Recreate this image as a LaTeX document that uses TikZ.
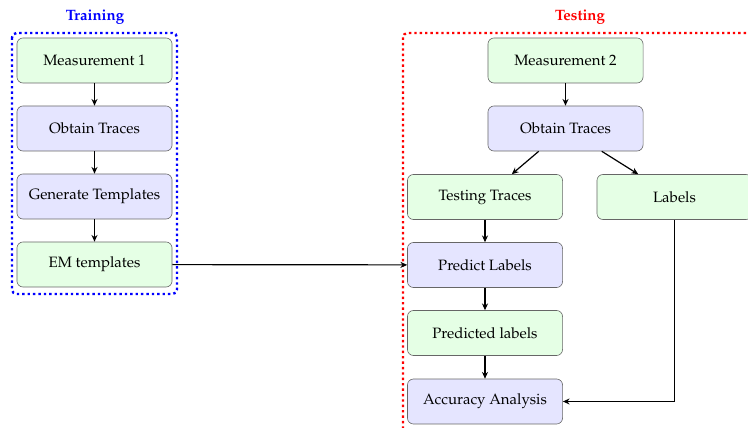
\documentclass[tikz,border=0pt]{standalone}
\usepackage[T1]{fontenc}
\usepackage{mathpazo}
\usetikzlibrary{arrows.meta,calc}

\definecolor{boxgreen}{RGB}{229,255,229}
\definecolor{boxblue}{RGB}{229,229,255}

\tikzset{
  block/.style={draw=black!60, line width=0.4pt, rounded corners=4pt,
    minimum width=103.4pt, minimum height=30pt, inner sep=2pt,
    font=\normalsize},
  greenbox/.style={block, fill=boxgreen},
  bluebox/.style={block, fill=boxblue},
  flow/.style={-{Stealth[length=4.5pt,width=4pt]}, line width=0.8pt, black},
  stagebox/.style={dash pattern=on 1.6pt off 2pt, line width=1.6pt, rounded corners=3pt},
}

\begin{document}
\begin{tikzpicture}[x=0.6667pt, y=-0.6667pt]
  \useasboundingbox (0,0) rectangle (748,428);
  \clip (0,0) rectangle (748,428);

  % stage frames and titles
  \draw[stagebox, blue] (12,33) rectangle (177,294);
  \draw[stagebox, red] (403,33) rectangle (770,445);
  \node[font=\bfseries, text=blue] (ttrain) at (95,17) {Training};
  \node[font=\bfseries, text=red] (ttest) at (580,17) {Testing};

  % training column
  \node[greenbox] (m1)  at (94.5,60.5)  {Measurement 1};
  \node[bluebox]  (ot1) at (94.5,128.5) {Obtain Traces};
  \node[bluebox]  (gt)  at (94.5,196.5) {Generate Templates};
  \node[greenbox] (em)  at (94.5,264.5) {EM templates};

  % testing column
  \node[greenbox] (m2)  at (565.5,60.5)  {Measurement 2};
  \node[bluebox]  (ot2) at (565.5,128.5) {Obtain Traces};
  \node[greenbox] (tt)  at (485,197)     {Testing Traces};
  \node[greenbox] (lab) at (674.5,197)   {Labels};
  \node[bluebox]  (pl)  at (485,265)     {Predict Labels};
  \node[greenbox] (pd)  at (485,333)     {Predicted labels};
  \node[bluebox]  (acc) at (485,401.5)   {Accuracy Analysis};

  % connectors
  \draw[flow] (m1) -- (ot1);
  \draw[flow] (ot1) -- (gt);
  \draw[flow] (gt) -- (em);
  \draw[flow] (em) -- (pl);

  \draw[flow] (m2) -- (ot2);
  \draw[flow] (ot2) -- (tt);
  \draw[flow] (ot2) -- (lab);
  \draw[flow] (tt) -- (pl);
  \draw[flow] (pl) -- (pd);
  \draw[flow] (pd) -- (acc);
  \draw[flow] (lab.south) |- (acc.east);
\end{tikzpicture}
\end{document}
